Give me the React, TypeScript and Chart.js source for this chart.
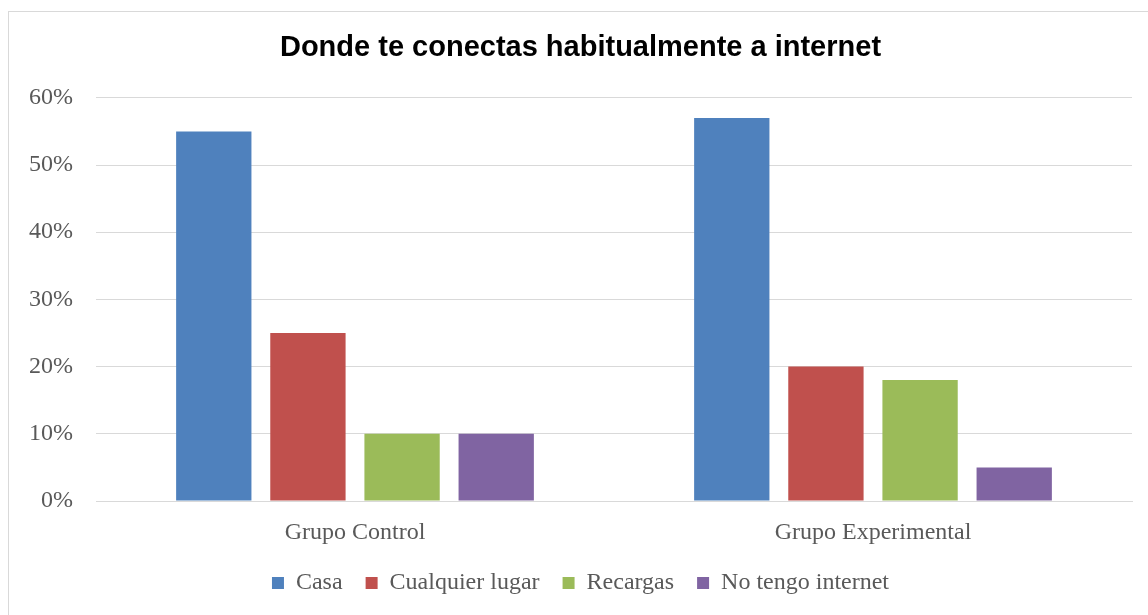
import React, { useEffect, useRef } from "react";
import { Chart, registerables } from "chart.js";

Chart.register(...registerables);

const categories = ["Grupo Control", "Grupo Experimental"];
const seriesNames = ["Casa", "Cualquier lugar", "Recargas", "No tengo internet"];
const casa = [55, 57];
const cualquierLugar = [25, 20];
const recargas = [10, 18];
const noTengo = [10, 5];
const colors = ["#4F81BD", "#C0504D", "#9BBB59", "#8064A2"];
const yTicks = [0, 10, 20, 30, 40, 50, 60];
const title = "Donde te conectas habitualmente a internet";

const serif = "'Liberation Serif', 'DejaVu Serif', serif";

export default function App() {
  const ref = useRef<HTMLCanvasElement | null>(null);
  useEffect(() => {
    if (!ref.current) return;
    const values = [casa, cualquierLugar, recargas, noTengo];
    const chart = new Chart(ref.current, {
      type: "bar",
      data: {
        labels: categories,
        datasets: seriesNames.map((name, i) => ({
          label: name,
          data: values[i],
          backgroundColor: colors[i],
          borderWidth: 0,
          barPercentage: 0.8,
          categoryPercentage: 0.727,
        })),
      },
      options: {
        responsive: false,
        animation: false,
        layout: { padding: { left: 20, right: 27, top: 0, bottom: 17 } },
        plugins: {
          title: {
            display: true,
            text: title,
            color: "#000000",
            font: { family: "'Liberation Sans', Arial, sans-serif", size: 29, weight: "bold" },
            padding: { top: 19, bottom: 32 },
          },
          legend: {
            position: "bottom",
            labels: {
              boxWidth: 12,
              boxHeight: 12,
              color: "#595959",
              font: { family: serif, size: 24 },
              padding: 23,
            },
          },
          tooltip: { enabled: false },
        },
        scales: {
          x: {
            grid: { display: false, drawTicks: false },
            border: { display: true, color: "#d9d9d9", width: 1 },
            ticks: { color: "#595959", font: { family: serif, size: 24 }, padding: 17 },
            afterFit: (scale: any) => {
              scale.height = 47;
            },
          },
          y: {
            min: 0,
            max: 60,
            afterBuildTicks: (scale: any) => {
              scale.ticks = yTicks.map((v) => ({ value: v }));
            },
            afterFit: (scale: any) => {
              scale.width = 67;
            },
            grid: { color: "#d9d9d9", lineWidth: 1, drawTicks: false },
            border: { display: false },
            ticks: {
              color: "#595959",
              font: { family: serif, size: 24 },
              padding: 23,
              callback: (v: any) => v + "%",
            },
          },
        },
      },
    });
    return () => chart.destroy();
  }, []);
  return (
    <div
      style={{
        position: "absolute",
        left: 8,
        top: 11,
        width: 1152,
        height: 612,
        border: "1px solid #d9d9d9",
        background: "#fff",
        boxSizing: "border-box",
      }}
    >
      <canvas ref={ref} width={1150} height={610} style={{ display: "block" }} />
    </div>
  );
}
